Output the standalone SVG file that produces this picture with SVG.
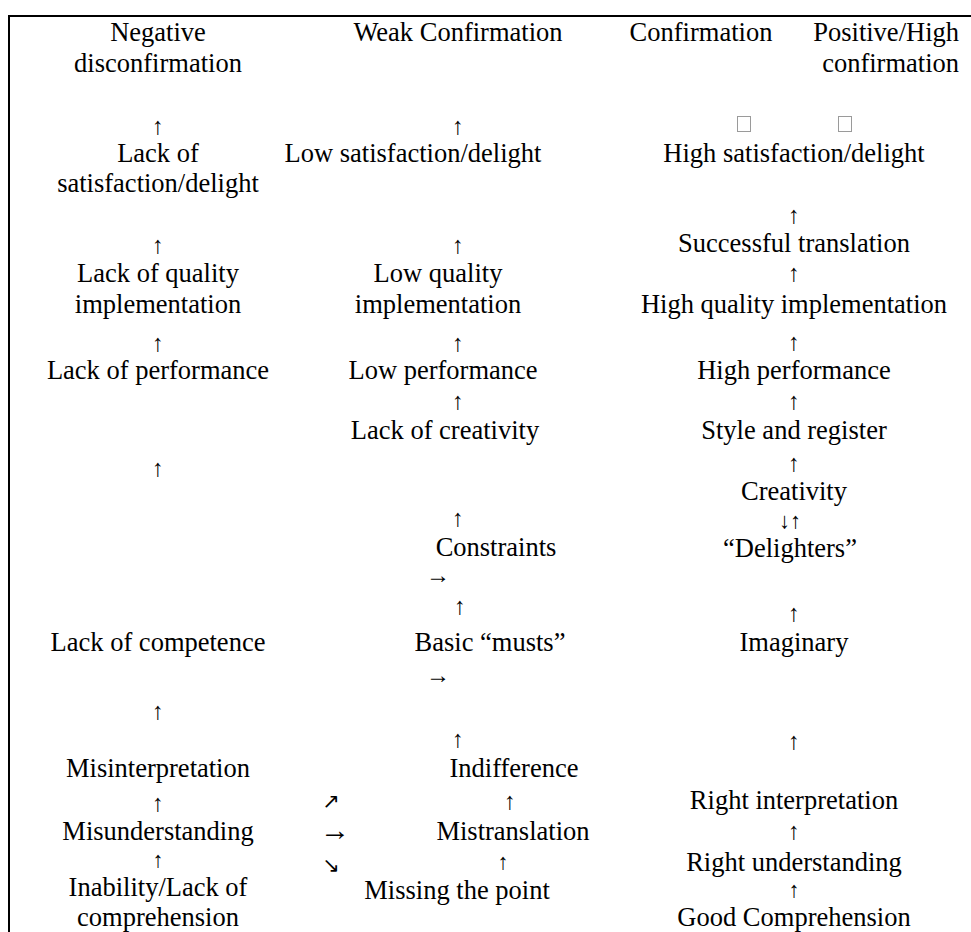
<svg xmlns="http://www.w3.org/2000/svg" width="971" height="932" viewBox="0 0 971 932">
<style>
text{font-family:"Liberation Serif","Times New Roman",serif;font-size:26.5px;fill:#000;text-anchor:middle}
text.a{font-size:24px}
text.s{font-size:22px}
text.d{font-family:"DejaVu Sans",sans-serif;font-size:21px}
text.r{text-anchor:end}
.tofu{fill:none;stroke:#9a9a9a;stroke-width:1}
.frame{stroke:#000;stroke-width:2;fill:none}
</style>
<rect width="971" height="932" fill="#fff"/>
<path class="frame" d="M9 932 V16 H971"/>
<g id="headers">
<text x="158" y="41">Negative</text>
<text x="158" y="72">disconfirmation</text>
<text x="458" y="41">Weak Confirmation</text>
<text x="701" y="41">Confirmation</text>
<text class="r" x="959" y="41">Positive/High</text>
<text class="r" x="959" y="72">confirmation</text>
</g>
<g id="tofu">
<rect class="tofu" x="737.5" y="116.5" width="13" height="15"/>
<rect class="tofu" x="838.5" y="116.5" width="13" height="15"/>
</g>
<g id="n-lack-satisfaction"><text x="158" y="162">Lack of</text><text x="158" y="192">satisfaction/delight</text></g>
<g id="n-lack-quality"><text x="158" y="282">Lack of quality</text><text x="158" y="313">implementation</text></g>
<g id="n-lack-performance"><text x="158" y="379">Lack of performance</text></g>
<g id="n-lack-competence"><text x="158" y="651">Lack of competence</text></g>
<g id="n-misinterpretation"><text x="158" y="777">Misinterpretation</text></g>
<g id="n-misunderstanding"><text x="158" y="840">Misunderstanding</text></g>
<g id="n-inability"><text x="158" y="896">Inability/Lack of</text><text x="158" y="926">comprehension</text></g>

<g id="n-low-satisfaction"><text x="413" y="162">Low satisfaction/delight</text></g>
<g id="n-low-quality"><text x="438" y="282">Low quality</text><text x="438" y="313">implementation</text></g>
<g id="n-low-performance"><text x="443" y="379">Low performance</text></g>
<g id="n-lack-creativity"><text x="445" y="439">Lack of creativity</text></g>
<g id="n-constraints"><text x="496" y="556">Constraints</text></g>
<g id="n-basic-musts"><text x="490" y="651">Basic “musts”</text></g>
<g id="n-indifference"><text x="514" y="777">Indifference</text></g>
<g id="n-mistranslation"><text x="513" y="840">Mistranslation</text></g>
<g id="n-missing-point"><text x="457" y="899">Missing the point</text></g>

<g id="n-high-satisfaction"><text x="794" y="162">High satisfaction/delight</text></g>
<g id="n-successful-translation"><text x="794" y="252">Successful translation</text></g>
<g id="n-high-quality"><text x="794" y="313">High quality implementation</text></g>
<g id="n-high-performance"><text x="794" y="379">High performance</text></g>
<g id="n-style-register"><text x="794" y="439">Style and register</text></g>
<g id="n-creativity"><text x="794" y="500">Creativity</text></g>
<g id="n-delighters"><text x="790" y="557">“Delighters”</text></g>
<g id="n-imaginary"><text x="794" y="651">Imaginary</text></g>
<g id="n-right-interpretation"><text x="794" y="809">Right interpretation</text></g>
<g id="n-right-understanding"><text x="794" y="871">Right understanding</text></g>
<g id="n-good-comprehension"><text x="794" y="926">Good Comprehension</text></g>

<g id="connectors">
<text class="a" x="158" y="134">↑</text>
<text class="a" x="158" y="253">↑</text>
<text class="a" x="158" y="351">↑</text>
<text class="a" x="158" y="476">↑</text>
<text class="a" x="158" y="719">↑</text>
<text class="a" x="158" y="811">↑</text>
<text class="s" x="158" y="867">↑</text>

<text class="a" x="458" y="134">↑</text>
<text class="a" x="458" y="253">↑</text>
<text class="a" x="458" y="351">↑</text>
<text class="a" x="458" y="409">↑</text>
<text class="a" x="458" y="526">↑</text>
<text class="a" x="438" y="583">→</text>
<text class="a" x="460" y="614">↑</text>
<text class="a" x="438" y="683">→</text>
<text class="a" x="458" y="747">↑</text>
<text class="a" x="510" y="809">↑</text>
<text class="s" x="503" y="869">↑</text>

<text class="d" x="331" y="808">↗</text>
<text class="a" x="335" y="840" style="font-size:30px">→</text>
<text class="d" x="331" y="872">↘</text>

<text class="a" x="794" y="223">↑</text>
<text class="a" x="794" y="281">↑</text>
<text class="a" x="794" y="350">↑</text>
<text class="a" x="794" y="409">↑</text>
<text class="a" x="794" y="471">↑</text>
<text class="s" x="790" y="528">↓↑</text>
<text class="a" x="794" y="621">↑</text>
<text class="a" x="794" y="749">↑</text>
<text class="a" x="794" y="839">↑</text>
<text class="s" x="794" y="897">↑</text>
</g>
</svg>
